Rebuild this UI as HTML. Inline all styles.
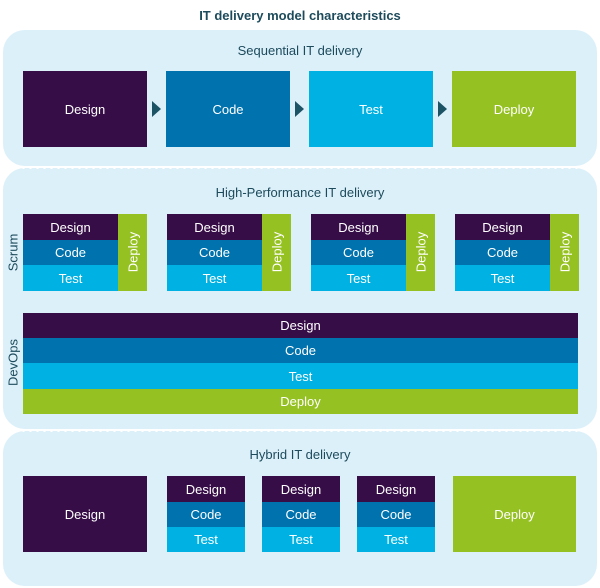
<!DOCTYPE html><html><head><style>
body{margin:0;width:600px;height:588px;background:#fff;font-family:"Liberation Sans",sans-serif;position:relative;overflow:hidden}
div{position:absolute;box-sizing:border-box}
.p{left:3px;width:594px;background:#dcf0fa;border-radius:22px}
.t{color:#1d4b5c;font-size:13px;text-align:center;width:600px;left:0}
.b{color:#fff;font-size:13px;display:flex;align-items:center;justify-content:center}
.d{background:#370d47}.c{background:#0072ad}.s{background:#00b2e3}.g{background:#95c122}
.v{color:#1d4b5c;font-size:13px;transform:rotate(-90deg);width:80px;text-align:center}
.dot{left:20px;width:560px;height:3px;background-image:radial-gradient(circle,#fff 1.3px,transparent 1.6px);background-size:7px 3px}
.ar{width:0;height:0;border-top:8px solid transparent;border-bottom:8px solid transparent;border-left:9px solid #1c5466}
</style></head><body>
<div class="t" style="top:8px;font-weight:bold;color:#1d4b5c">IT delivery model characteristics</div>
<div class="p" style="top:30px;height:136px"></div>
<div class="p" style="top:168px;height:261px"></div>
<div class="p" style="top:431px;height:155px"></div>
<div class="dot" style="top:166px"></div>
<div class="dot" style="top:429px"></div>
<div class="t" style="top:43px">Sequential IT delivery</div>
<div class="b d" style="left:23px;top:71px;width:124px;height:76px">Design</div>
<div class="b c" style="left:166px;top:71px;width:124px;height:76px">Code</div>
<div class="b s" style="left:309px;top:71px;width:124px;height:76px">Test</div>
<div class="b g" style="left:452px;top:71px;width:124px;height:76px">Deploy</div>
<div class="ar" style="left:152px;top:101px"></div>
<div class="ar" style="left:295px;top:101px"></div>
<div class="ar" style="left:438px;top:101px"></div>
<div class="t" style="top:185px">High-Performance IT delivery</div>
<div class="v" style="left:-27px;top:245px">Scrum</div>
<div class="v" style="left:-27px;top:355px">DevOps</div>
<div id="scr"></div>
<div class="b d" style="left:23px;top:313px;width:555px;height:25px">Design</div>
<div class="b c" style="left:23px;top:338px;width:555px;height:25px">Code</div>
<div class="b s" style="left:23px;top:363px;width:555px;height:26px">Test</div>
<div class="b g" style="left:23px;top:389px;width:555px;height:25px">Deploy</div>
<div class="t" style="top:447px">Hybrid IT delivery</div>
<div class="b d" style="left:23px;top:476px;width:124px;height:76px">Design</div>
<div class="b g" style="left:453px;top:476px;width:123px;height:76px">Deploy</div>
<script>
var h='';[23,167,311,455].forEach(function(x){
h+='<div class="b d" style="left:'+x+'px;top:214px;width:95px;height:26px">Design</div>'+
'<div class="b c" style="left:'+x+'px;top:240px;width:95px;height:25px">Code</div>'+
'<div class="b s" style="left:'+x+'px;top:265px;width:95px;height:26px">Test</div>'+
'<div class="g" style="left:'+(x+95)+'px;top:214px;width:29px;height:77px"><div class="b" style="left:-24px;top:28px;width:77px;height:20px;transform:rotate(-90deg)">Deploy</div></div>';});
[167,262,357].forEach(function(x){
h+='<div class="b d" style="left:'+x+'px;top:476px;width:78px;height:26px">Design</div>'+
'<div class="b c" style="left:'+x+'px;top:502px;width:78px;height:25px">Code</div>'+
'<div class="b s" style="left:'+x+'px;top:527px;width:78px;height:25px">Test</div>';});
document.getElementById('scr').outerHTML=h;
</script>
</body></html>
